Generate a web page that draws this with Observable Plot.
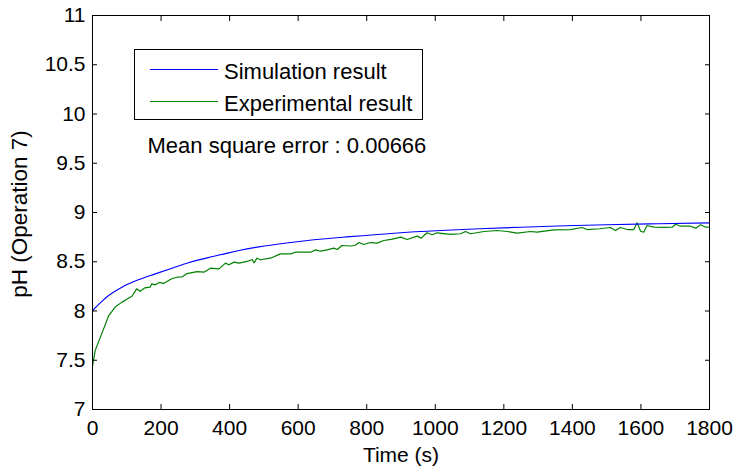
<!DOCTYPE html>
<html><head><meta charset="utf-8">
<script src="https://cdn.jsdelivr.net/npm/d3@7"></script>
<script src="https://cdn.jsdelivr.net/npm/@observablehq/plot@0.6"></script>
<style>
body{margin:0;background:#fff;}
#wrap{position:relative;width:737px;height:474px;font-family:"Liberation Sans",Arial,Helvetica,sans-serif;}
#wrap svg{overflow:visible;max-width:none;}
.leg{position:absolute;left:134px;top:49px;width:287px;height:69px;border:1px solid #000;background:#fff;}
.legline{position:absolute;left:15px;width:68px;height:0;}
.legtxt{position:absolute;left:89px;font-size:22px;line-height:22px;white-space:nowrap;color:#000;}
.ylab{position:absolute;left:20px;top:214px;font-size:22.5px;line-height:22.5px;white-space:nowrap;color:#000;transform:translate(-50%,-50%) rotate(-90deg);}
</style>
</head><body>
<div id="wrap"></div>
<script>
// Simulation result (blue)
const simTime = [0, 10, 25, 47, 86, 134, 183, 232, 280, 354, 451, 548, 646, 750, 880, 1015, 1130, 1249, 1380, 1500, 1650, 1800];
const simPH   = [8.00, 8.04, 8.09, 8.157, 8.242, 8.317, 8.377, 8.435, 8.49, 8.555, 8.631, 8.682, 8.723, 8.755, 8.79, 8.817, 8.835, 8.851, 8.865, 8.875, 8.886, 8.895];
// Experimental result (green)
const expTime = [0, 8, 27, 47, 66, 86, 100, 115, 129, 139, 153, 168, 173, 183, 195, 207, 231, 246, 261, 276, 305, 325, 344, 369, 388, 398, 413, 427, 451, 466, 471, 480, 490, 519, 548, 578, 592, 636, 651, 665, 685, 704, 714, 728, 753, 765, 778, 791, 811, 830, 850, 875, 899, 918, 947, 959, 976, 991, 1005, 1044, 1074, 1088, 1103, 1142, 1181, 1210, 1239, 1278, 1297, 1346, 1394, 1428, 1443, 1480, 1511, 1526, 1540, 1560, 1579, 1589, 1599, 1608, 1618, 1638, 1667, 1691, 1701, 1716, 1745, 1760, 1774, 1789, 1800];
const expPH   = [7.44, 7.60, 7.77, 7.95, 8.04, 8.09, 8.12, 8.15, 8.225, 8.20, 8.235, 8.242, 8.276, 8.266, 8.29, 8.28, 8.327, 8.343, 8.345, 8.38, 8.40, 8.394, 8.435, 8.428, 8.486, 8.47, 8.496, 8.486, 8.503, 8.523, 8.489, 8.536, 8.52, 8.536, 8.58, 8.58, 8.597, 8.597, 8.621, 8.607, 8.621, 8.638, 8.624, 8.665, 8.66, 8.665, 8.695, 8.675, 8.695, 8.689, 8.716, 8.73, 8.75, 8.726, 8.76, 8.74, 8.794, 8.774, 8.794, 8.777, 8.784, 8.807, 8.784, 8.807, 8.817, 8.807, 8.79, 8.807, 8.80, 8.824, 8.827, 8.848, 8.827, 8.835, 8.848, 8.817, 8.848, 8.827, 8.827, 8.895, 8.81, 8.80, 8.868, 8.851, 8.848, 8.851, 8.881, 8.861, 8.861, 8.841, 8.875, 8.851, 8.85];
const xTicks = [0, 200, 400, 600, 800, 1000, 1200, 1400, 1600, 1800];
const yTicks = [7, 7.5, 8, 8.5, 9, 9.5, 10, 10.5, 11];
const seriesNames = ["Simulation result", "Experimental result"];
const seriesColors = ["#0000ff", "#008000"];
const xLabel = "Time (s)";
const yLabel = "pH (Operation 7)";
const note = "Mean square error : 0.00666";

const sim = simTime.map((t, i) => ({t, ph: simPH[i]}));
const exp = expTime.map((t, i) => ({t, ph: expPH[i]}));
const fmt = d => String(d);
const ff = '"Liberation Sans", Arial, Helvetica, sans-serif';

const chart = Plot.plot({
  width: 737, height: 474,
  marginLeft: 92, marginRight: 28, marginTop: 15, marginBottom: 65,
  style: {fontFamily: ff, fontSize: "21px", color: "#000", background: "#fff", overflow: "visible"},
  x: {domain: [0, 1800]},
  y: {domain: [7, 11]},
  marks: [
    Plot.line(exp, {x: "t", y: "ph", stroke: seriesColors[1], strokeWidth: 1.2}),
    Plot.line(sim, {x: "t", y: "ph", stroke: seriesColors[0], strokeWidth: 1.1, curve: "monotone-x"}),
    Plot.frame({stroke: "#000", strokeWidth: 1}),
    Plot.axisX(xTicks, {anchor: "bottom", tickSize: -5, tickFormat: () => "", label: null, stroke: "#000"}),
    Plot.text(xTicks, {x: d => d, frameAnchor: "bottom", textAnchor: "middle", lineAnchor: "top", dy: 11, text: fmt, fontSize: 21, fill: "#000"}),
    Plot.axisX(xTicks, {anchor: "top", tickSize: -5, tickFormat: () => "", label: null, stroke: "#000"}),
    Plot.axisY(yTicks, {anchor: "left", tickSize: -5, tickPadding: 12, tickFormat: fmt, label: null, fill: "#000", stroke: "#000", fontSize: 21}),
    Plot.axisY(yTicks, {anchor: "right", tickSize: -5, tickFormat: () => "", label: null, stroke: "#000"}),
    Plot.text([xLabel], {frameAnchor: "bottom", lineAnchor: "top", dy: 38, fontSize: 21, fill: "#000"}),
    Plot.text([note], {frameAnchor: "top-left", textAnchor: "start", lineAnchor: "top", dx: 55, dy: 122, fontSize: 22, fill: "#000"})
  ]
});

const wrap = document.getElementById("wrap");
wrap.appendChild(chart);
const yl = document.createElement("div");
yl.className = "ylab";
yl.textContent = yLabel;
wrap.appendChild(yl);
const leg = document.createElement("div");
leg.className = "leg";
const tops = [11, 43];
const lineY = [19, 51];
seriesNames.forEach((name, i) => {
  const ln = document.createElement("div");
  ln.className = "legline";
  ln.style.top = lineY[i] + "px";
  ln.style.borderTop = "1px solid " + seriesColors[i];
  leg.appendChild(ln);
  const tx = document.createElement("div");
  tx.className = "legtxt";
  tx.style.top = tops[i] + "px";
  tx.textContent = name;
  leg.appendChild(tx);
});
wrap.appendChild(leg);
</script>
</body></html>
